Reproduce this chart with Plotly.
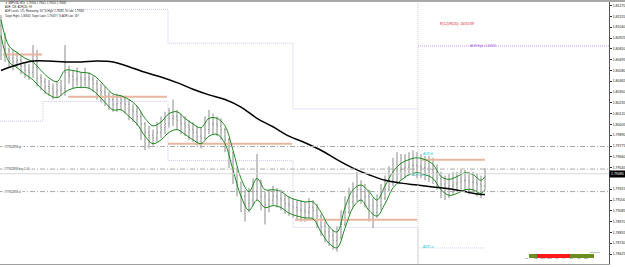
import plotly.graph_objects as go

# ---------------- data (GBPUSD, bar index = chart bar) ----------------
bar_open = [1.8106,1.8096,1.8080,1.8071,1.8067,1.8069,1.8063,1.8058,1.8056,1.8061,
1.8050,1.8046,1.8041,1.8039,1.8035,1.8037,1.8039,1.8056,1.8052,1.8048,
1.8050,1.8048,1.8050,1.8048,1.8044,1.8037,1.8035,1.8031,1.8027,1.8022,
1.8023,1.8027,1.8022,1.8016,1.8014,1.8009,1.8001,1.7992,1.7989,1.7986,
1.7992,1.7997,1.8001,1.8007,1.8009,1.8005,1.8001,1.7999,1.7995,1.7992,
1.7988,1.7986,1.7995,1.8001,1.8001,1.7999,1.7995,1.7984,1.7971,1.7954,
1.7939,1.7924,1.7916,1.7920,1.7929,1.7941,1.7924,1.7915,1.7920,1.7924,
1.7922,1.7920,1.7916,1.7914,1.7912,1.7909,1.7909,1.7907,1.7912,1.7909,
1.7903,1.7892,1.7886,1.7882,1.7877,1.7880,1.7894,1.7907,1.7918,1.7924,
1.7931,1.7929,1.7924,1.7914,1.7907,1.7914,1.7922,1.7931,1.7941,1.7948,
1.7952,1.7954,1.7955,1.7957,1.7957,1.7956,1.7955,1.7954,1.7952,1.7949,
1.7943,1.7937,1.7933,1.7935,1.7937,1.7939,1.7941,1.7941,1.7939,1.7939,
1.7937,1.7935]
bar_high = [1.8117,1.8098,1.8082,1.8080,1.8078,1.8073,1.8067,1.8065,1.8085,1.8080,
1.8054,1.8050,1.8048,1.8044,1.8046,1.8048,1.8085,1.8063,1.8058,1.8061,
1.8056,1.8061,1.8056,1.8052,1.8048,1.8044,1.8041,1.8035,1.8032,1.8033,
1.8032,1.8031,1.8027,1.8022,1.8020,1.8014,1.8003,1.7999,1.7995,1.8003,
1.8009,1.8014,1.8018,1.8027,1.8016,1.8012,1.8009,1.8005,1.8003,1.7999,
1.7997,1.8009,1.8016,1.8012,1.8009,1.8007,1.7997,1.7986,1.7971,1.7954,
1.7939,1.7931,1.7933,1.7943,1.7969,1.7941,1.7929,1.7931,1.7935,1.7933,
1.7931,1.7926,1.7924,1.7922,1.7920,1.7920,1.7918,1.7922,1.7920,1.7916,
1.7905,1.7897,1.7892,1.7888,1.7892,1.7909,1.7924,1.7933,1.7939,1.7950,
1.7941,1.7937,1.7931,1.7922,1.7926,1.7937,1.7946,1.7956,1.7965,1.7971,
1.7969,1.7969,1.7971,1.7973,1.7971,1.7969,1.7967,1.7967,1.7965,1.7958,
1.7950,1.7946,1.7948,1.7950,1.7950,1.7952,1.7952,1.7950,1.7950,1.7948,
1.7946,1.7954]
bar_low = [1.8069,1.8067,1.8061,1.8058,1.8061,1.8054,1.8050,1.8048,1.8050,1.8041,
1.8037,1.8033,1.8031,1.8027,1.8029,1.8031,1.8031,1.8044,1.8039,1.8041,
1.8039,1.8041,1.8039,1.8035,1.8027,1.8024,1.8020,1.8016,1.8014,1.8014,
1.8016,1.8012,1.8005,1.8003,1.7999,1.7984,1.7973,1.7975,1.7978,1.7982,
1.7986,1.7990,1.7997,1.7999,1.7995,1.7990,1.7988,1.7984,1.7982,1.7978,
1.7975,1.7984,1.7990,1.7990,1.7988,1.7984,1.7971,1.7954,1.7937,1.7924,
1.7907,1.7897,1.7907,1.7914,1.7920,1.7909,1.7894,1.7907,1.7914,1.7912,
1.7909,1.7905,1.7903,1.7901,1.7899,1.7897,1.7897,1.7901,1.7899,1.7890,
1.7882,1.7875,1.7871,1.7867,1.7865,1.7878,1.7892,1.7905,1.7912,1.7918,
1.7916,1.7912,1.7897,1.7890,1.7901,1.7909,1.7920,1.7929,1.7935,1.7939,
1.7941,1.7943,1.7946,1.7946,1.7943,1.7943,1.7941,1.7939,1.7937,1.7931,
1.7922,1.7920,1.7922,1.7926,1.7929,1.7931,1.7929,1.7926,1.7929,1.7924,
1.7922,1.7931]
bar_close = [1.8096,1.8080,1.8071,1.8067,1.8069,1.8063,1.8058,1.8056,1.8061,1.8050,
1.8046,1.8041,1.8039,1.8035,1.8037,1.8039,1.8056,1.8052,1.8048,1.8050,
1.8048,1.8050,1.8048,1.8044,1.8037,1.8035,1.8031,1.8027,1.8022,1.8023,
1.8027,1.8022,1.8016,1.8014,1.8009,1.8001,1.7992,1.7989,1.7986,1.7992,
1.7997,1.8001,1.8007,1.8009,1.8005,1.8001,1.7999,1.7995,1.7992,1.7988,
1.7986,1.7995,1.8001,1.8001,1.7999,1.7995,1.7984,1.7971,1.7954,1.7939,
1.7924,1.7916,1.7920,1.7929,1.7941,1.7924,1.7915,1.7920,1.7924,1.7922,
1.7920,1.7916,1.7914,1.7912,1.7909,1.7909,1.7907,1.7912,1.7909,1.7903,
1.7892,1.7886,1.7882,1.7877,1.7880,1.7894,1.7907,1.7918,1.7924,1.7931,
1.7929,1.7924,1.7914,1.7907,1.7914,1.7922,1.7931,1.7941,1.7948,1.7952,
1.7954,1.7955,1.7957,1.7957,1.7956,1.7955,1.7954,1.7952,1.7949,1.7943,
1.7937,1.7933,1.7935,1.7937,1.7939,1.7941,1.7941,1.7939,1.7939,1.7937,
1.7935,1.7948]
bar_index = list(range(len(bar_close)))

env_index = [0,2,4,6,8,10,12,14,16,18,20,22,24,26,28,30,32,34,36,38,40,42,44,46,48,50,
52,54,56,58,60,62,64,66,68,70,72,74,76,78,80,82,84,86,88,90,92,94,96,98,100,
102,104,106,108,110,112,114,116,118,120,121]
env_upper = [1.8112,1.8084,1.8077,1.8071,1.8067,1.8058,1.8050,1.8046,1.8058,1.8058,
1.8056,1.8055,1.8050,1.8041,1.8033,1.8031,1.8027,1.8020,1.8007,1.7999,
1.8003,1.8012,1.8014,1.8007,1.8001,1.7997,1.8007,1.8007,1.7999,1.7973,
1.7943,1.7929,1.7943,1.7931,1.7931,1.7929,1.7923,1.7920,1.7918,1.7918,
1.7907,1.7892,1.7886,1.7912,1.7931,1.7936,1.7929,1.7920,1.7935,1.7950,
1.7959,1.7963,1.7965,1.7963,1.7958,1.7945,1.7942,1.7945,1.7949,1.7947,
1.7941,1.7945]
env_lower = [1.8095,1.8067,1.8061,1.8054,1.8048,1.8039,1.8032,1.8029,1.8035,1.8039,
1.8040,1.8039,1.8033,1.8024,1.8016,1.8016,1.8009,1.8001,1.7988,1.7980,
1.7984,1.7992,1.7995,1.7990,1.7984,1.7980,1.7988,1.7990,1.7980,1.7952,
1.7924,1.7909,1.7920,1.7912,1.7914,1.7912,1.7906,1.7903,1.7901,1.7900,
1.7886,1.7874,1.7869,1.7890,1.7912,1.7920,1.7909,1.7903,1.7916,1.7933,
1.7941,1.7947,1.7949,1.7947,1.7943,1.7931,1.7925,1.7927,1.7931,1.7931,
1.7927,1.7931]

ma_index = [0,4,8,12,16,20,24,28,32,36,40,44,48,52,56,60,64,68,72,76,80,84,88,92,
96,100,104,108,112,116,120,121]
ma_value = [1.8058,1.8064,1.8068,1.8068,1.8067,1.8067,1.8068,1.8067,1.8062,1.8056,
1.8051,1.8045,1.8038,1.8032,1.8027,1.8019,1.8007,1.7998,1.7988,1.7981,
1.7973,1.7963,1.7954,1.7947,1.7941,1.7938,1.7936,1.7934,1.7932,1.7929,
1.7926,1.7926]

y_tick_values = [1.81270,1.81155,1.81040,1.80925,1.80810,1.80695,1.80580,1.80465,
1.80350,1.80235,1.80120,1.80005,1.79890,1.79775,1.79660,1.79545,
1.79315,1.79200,1.79085,1.78970,1.78855,1.78740,1.78625]
y_tick_labels = ["1.81270","1.81155","1.81040","1.80925","1.80810","1.80695","1.80580",
"1.80465","1.80350","1.80235","1.80120","1.80005","1.79890","1.79775",
"1.79660","1.79545","1.79315","1.79200","1.79085","1.78970","1.78855",
"1.78740","1.78625"]

level_start = [0.5, 16.75, 41.75, 73.5, 105.25]
level_end = [10.25, 41.5, 72.75, 104.0, 121.0]
level_price = [1.8075, 1.8030, 1.7980, 1.7899, 1.7963]

range_high_x = [10.5, 41.75, 73.0, 104.25]
range_high = [1.8123, 1.8087, 1.8017, 1.8017]
range_low_x = [-0.25, 10.5, 41.75, 73.0, 104.25, 104.25]
range_low = [1.8004, 1.8025, 1.7962, 1.7891, 1.7891, 1.7800]
today_low_x = [104.75, 121.0]
today_low = [1.7869, 1.7869]
adr_high_x = [104.25, 152.0]
adr_high = [1.8084, 1.8084]
day_start = 104.25

order_prices = [1.7977, 1.7953, 1.7929]
order_labels = ["#77912893 tp", "#77912893 buy 1.00", "#77912893 sl"]
bid_price = 1.7948
bid_label = "1.79480"

header_lines = [
    "\u25bc GBPUSD,M15  1.79356 1.79541 1.79310 1.79480",
    "ADR: 138  ADR(20): 99",
    "ADR Levels: 175, Remaining: 93, To High: 1.79485, To Low: 1.79365",
    "Target Highs: 1.80843, Target Lows: 1.79437 / To ADR Low: 187",
]

# ---------------- layout helpers (pixel -> paper) ----------------
W, H = 625, 267
ML, MR, MT, MB = 0, 16, 2, 3
PW, PH = W - ML - MR, H - MT - MB


def pxx(x):
    return (x - ML) / PW


def pxy(y):
    return 1 - (y - MT) / PH


Y0 = 1.8133
DY = 0.00010648
y_range = [Y0 - (H - MB) * DY, Y0 - MT * DY]

fig = go.Figure()

# price bars
fig.add_trace(go.Ohlc(
    x=bar_index, open=bar_open, high=bar_high, low=bar_low, close=bar_close,
    increasing=dict(line=dict(color="#8a8a8a", width=1)),
    decreasing=dict(line=dict(color="#8a8a8a", width=1)),
    tickwidth=0.2, showlegend=False, hoverinfo="skip"))

# salmon level segments
for s, e, p in zip(level_start, level_end, level_price):
    fig.add_trace(go.Scatter(x=[s, e], y=[p, p], mode="lines",
                             line=dict(color="#e8b6a0", width=2),
                             showlegend=False, hoverinfo="skip"))

# range staircases (dotted lavender)
dotted = "1px,1px"
fig.add_trace(go.Scatter(x=range_high_x, y=range_high, mode="lines",
                         line=dict(color="#c4c4f4", width=1, dash=dotted, shape="hv"),
                         showlegend=False, hoverinfo="skip"))
fig.add_trace(go.Scatter(x=range_low_x, y=range_low, mode="lines",
                         line=dict(color="#c4c4f4", width=1, dash=dotted, shape="hv"),
                         showlegend=False, hoverinfo="skip"))
fig.add_trace(go.Scatter(x=today_low_x, y=today_low, mode="lines",
                         line=dict(color="#d0d0f6", width=1, dash=dotted),
                         showlegend=False, hoverinfo="skip"))
fig.add_trace(go.Scatter(x=adr_high_x, y=adr_high, mode="lines",
                         line=dict(color="#c890f0", width=1, dash=dotted),
                         showlegend=False, hoverinfo="skip"))

# envelopes
fig.add_trace(go.Scatter(x=env_index, y=env_upper, mode="lines",
                         line=dict(color="#1f8a1f", width=1, shape="spline"),
                         showlegend=False, hoverinfo="skip"))
fig.add_trace(go.Scatter(x=env_index, y=env_lower, mode="lines",
                         line=dict(color="#1f8a1f", width=1, shape="spline"),
                         showlegend=False, hoverinfo="skip"))

# moving average
fig.add_trace(go.Scatter(x=ma_index, y=ma_value, mode="lines",
                         line=dict(color="#000000", width=1.5, shape="spline"),
                         showlegend=False, hoverinfo="skip"))

shapes = []
# day start separator
shapes.append(dict(type="line", xref="x", yref="paper", x0=day_start, x1=day_start,
                   y0=0, y1=1, line=dict(color="#cccccc", width=1, dash=dotted)))
# order lines
for p in order_prices:
    shapes.append(dict(type="line", xref="paper", yref="y", x0=0, x1=1, y0=p, y1=p,
                       line=dict(color="#a8a8a8", width=1, dash="5px,2px,1px,2px")))
# bid line
shapes.append(dict(type="line", xref="paper", yref="y", x0=0, x1=1, y0=bid_price, y1=bid_price,
                   line=dict(color="#d8d8d8", width=1)))
# window top border
shapes.append(dict(type="line", xref="paper", yref="paper", x0=0, x1=W / PW, y0=pxy(1), y1=pxy(1),
                   line=dict(color="#a8a8a8", width=2)))
# bottom status strip
strip = [(529, 537, "#6b8e23"), (537, 570, "#ff1a1a"), (570, 594, "#6b8e23")]
for x0, x1, c in strip:
    shapes.append(dict(type="rect", xref="paper", yref="paper", x0=pxx(x0), x1=pxx(x1),
                       y0=pxy(258), y1=pxy(254), fillcolor=c, line=dict(width=0)))

ann = []
font_f = "Liberation Sans, Arial, sans-serif"
for k, t in enumerate(header_lines):
    ann.append(dict(xref="paper", yref="paper", x=pxx(3), y=pxy(3 + 4.2 * k), text=t,
                    showarrow=False, xanchor="left", yanchor="middle",
                    font=dict(size=2.6, color="#222222", family=font_f)))
for p, t in zip(order_prices, order_labels):
    ann.append(dict(xref="paper", yref="y", x=pxx(2), y=p, text=t, showarrow=False,
                    xanchor="left", yanchor="middle", bgcolor="#ffffff",
                    font=dict(size=2.8, color="#333333", family=font_f)))
ann.append(dict(xref="paper", yref="y", x=1, y=bid_price, text=bid_label, showarrow=False,
                xanchor="left", yanchor="middle", bgcolor="#000000", borderpad=1,
                font=dict(size=3.5, color="#ffffff", family=font_f)))
ann.append(dict(xref="paper", yref="paper", x=pxx(476), y=pxy(20), text="R(12)/R(20): 26/31/39",
                showarrow=False, font=dict(size=3.5, color="#e02020", family=font_f)))
ann.append(dict(xref="paper", yref="y", x=pxx(498), y=adr_high[0], text="ADR High: 1.80843",
                showarrow=False, font=dict(size=3, color="#a060e0", family=font_f)))
ann.append(dict(xref="paper", yref="paper", x=pxx(421), y=pxy(154), text="ADR Hi",
                showarrow=False, xanchor="left", font=dict(size=3, color="#20c8d0", family=font_f)))
ann.append(dict(xref="paper", yref="paper", x=pxx(421), y=pxy(251), text="ADR Lo",
                showarrow=False, xanchor="left", font=dict(size=3, color="#20c8d0", family=font_f)))
ann.append(dict(xref="paper", yref="paper", x=pxx(410), y=pxy(179), text="ADR Start",
                showarrow=False, xanchor="left", font=dict(size=3, color="#40b0b8", family=font_f)))
for xp, t in zip([531, 540, 547, 554, 561, 568, 576, 583, 590], ["M1", "M5", "M15", "M30", "H1", "H4", "D1", "W1", "MN"]):
    ann.append(dict(xref="paper", yref="paper", x=pxx(xp), y=pxy(262), text=t, showarrow=False,
                    font=dict(size=2.5, color="#444444", family=font_f)))
ann.append(dict(xref="paper", yref="paper", x=pxx(602), y=pxy(256), text="00:00:00", showarrow=False,
                font=dict(size=2.5, color="#444444", family=font_f)))

fig.update_layout(
    width=W, height=H,
    margin=dict(l=ML, r=MR, t=MT, b=MB, pad=0),
    paper_bgcolor="#ffffff", plot_bgcolor="#ffffff",
    showlegend=False,
    shapes=shapes, annotations=ann,
    xaxis=dict(range=[-0.25, 152], showticklabels=False, showgrid=False, zeroline=False,
               showline=True, linecolor="#a0a0a0", linewidth=1, ticks="",
               rangeslider=dict(visible=False), fixedrange=True, automargin=False),
    yaxis=dict(range=y_range, side="right", tickvals=y_tick_values, ticktext=y_tick_labels,
               tickfont=dict(size=3.5, color="#111111", family=font_f),
               ticks="outside", ticklen=2, tickcolor="#333333",
               showgrid=False, zeroline=False, showline=True, linecolor="#555555",
               linewidth=1, automargin=False, fixedrange=True),
)

fig.write_html("out.html")
